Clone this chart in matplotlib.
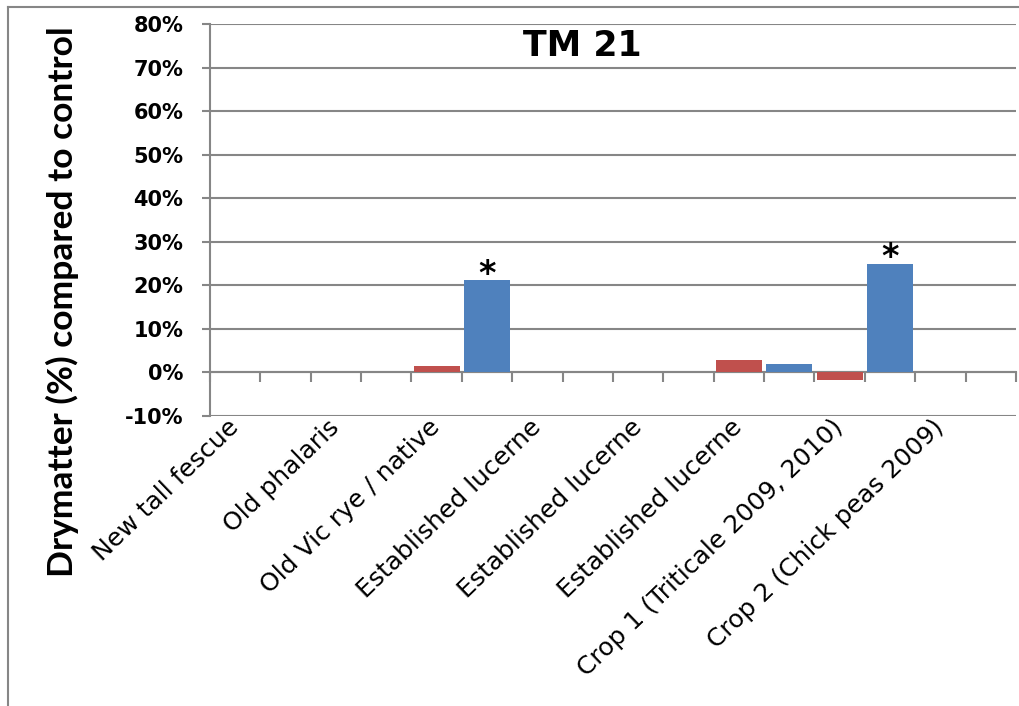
import matplotlib
matplotlib.use("Agg")
import matplotlib.pyplot as plt
from matplotlib.lines import Line2D
import numpy as np

plt.rcParams['font.family'] = ['DejaVu Sans']

# 16 category slots; Excel only shows every second label
categories = ["New tall fescue", "", "Old phalaris", "", "Old Vic rye / native", "",
              "Established lucerne", "", "Established lucerne", "", "Established lucerne", "",
              "Crop 1 (Triticale 2009, 2010)", "", "Crop 2 (Chick peas 2009)", ""]
red_values = [0, 0, 0, 0, 1.5, 0, 0, 0, 0, 0, 2.9, 0, -1.7, 0, 0, 0]
blue_values = [0, 0, 0, 0, 0, 21.2, 0, 0, 0, 0, 0, 2.0, 0, 24.9, 0, 0]
significant = [5, 13]  # blue bars marked with *
yticks = [-10, 0, 10, 20, 30, 40, 50, 60, 70, 80]
title = "TM 21"
ylabel = "Drymatter (%) compared to control"

RED = "#C0504D"
BLUE = "#4F81BD"
GRID = "#868686"

fig = plt.figure(figsize=(10.2, 7.06), dpi=100)
ax = fig.add_axes([210/1020, 1-416/706, (1016-210)/1020, (416-24)/706])

x = np.arange(len(categories))
ax.bar(x, red_values, width=0.92, color=RED, zorder=3)
ax.bar(x, blue_values, width=0.92, color=BLUE, zorder=3)

for i in significant:
    ax.annotate("*", xy=(x[i], blue_values[i]), xytext=(0, -2.5), textcoords="offset points",
                ha="center", va="baseline", fontsize=24, fontweight="bold",
                color="black", zorder=4)

ax.set_xlim(-0.5, len(categories) - 0.5)
ax.set_ylim(-10, 80)
ax.set_yticks(yticks)
ax.set_yticklabels([f"{v}%" for v in yticks], fontsize=15, fontweight="bold")
ax.yaxis.grid(True, color=GRID, linewidth=1.5, zorder=0)
ax.set_axisbelow(True)
ax.tick_params(axis="y", length=5.8, width=1.5, color=GRID, pad=13.5)

# x axis crossing at zero with boundary ticks
ax.spines["bottom"].set_position(("data", 0))
ax.spines["bottom"].set_color(GRID)
ax.spines["bottom"].set_linewidth(1.5)
ax.spines["left"].set_color(GRID)
ax.spines["left"].set_linewidth(1.5)
ax.spines["top"].set_visible(False)
ax.spines["right"].set_visible(False)
ax.set_xticks(x)
ax.set_xticklabels(categories, rotation=44, ha="right", va="center",
                   rotation_mode="anchor", fontsize=18)
ax.tick_params(axis="x", which="major", length=0, pad=37)
ax.set_xticks(np.arange(len(categories) + 1) - 0.5, minor=True)
ax.tick_params(axis="x", which="minor", length=7.2, width=1.5, color=GRID, direction="out")

ax.text((582-210)/806, (416-56)/392, title, transform=ax.transAxes, ha="center", va="baseline",
        fontsize=25, fontweight="bold")

fig.text(62/1020, 1-301.5/706, ylabel, rotation=90, ha="center", va="center",
         fontsize=25.5, fontweight="bold", family=["Lato", "DejaVu Sans"])

# outer chart border (partially cropped)
fig.add_artist(Line2D([8/1020, 8/1020], [0, 1-7/706], color=GRID, linewidth=1.5, transform=fig.transFigure))
fig.add_artist(Line2D([8/1020, 1], [1-7/706, 1-7/706], color=GRID, linewidth=1.5, transform=fig.transFigure))

fig.savefig("out.png", dpi=100)
